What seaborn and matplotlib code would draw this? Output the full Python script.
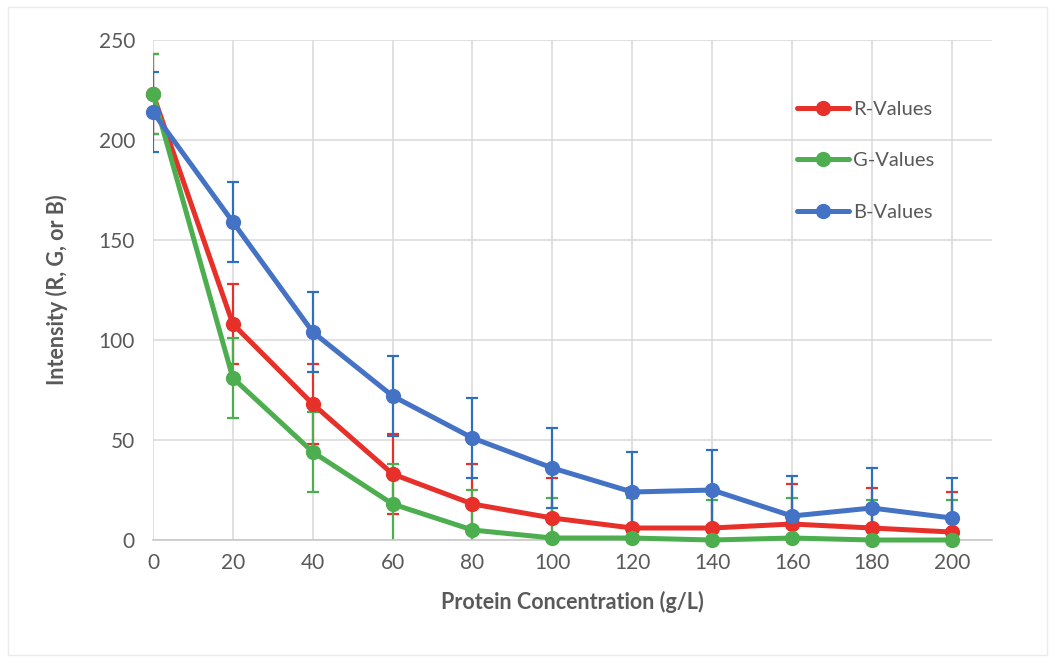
import numpy as np
import pandas as pd
import matplotlib
matplotlib.use("Agg")
import matplotlib.pyplot as plt
import seaborn as sns

sns.set_theme(style="white")
plt.rcParams['font.family'] = ['Lato', 'DejaVu Sans']

# protein concentration (g/L)
conc = [0, 20, 40, 60, 80, 100, 120, 140, 160, 180, 200]

r_values = [223, 108, 68, 33, 18, 11, 6, 6, 8, 6, 4]
g_values = [223, 81, 44, 18, 5, 1, 1, 0, 1, 0, 0]
b_values = [214, 159, 104, 72, 51, 36, 24, 25, 12, 16, 11]

r_err = [20] * 11
g_err = [20] * 11
b_err = [20] * 11

series = ["R-Values", "G-Values", "B-Values"]
colors = {"R-Values": "#E8302A", "G-Values": "#4DAE4F", "B-Values": "#4472C4"}
err_colors = {"R-Values": "#E8302A", "G-Values": "#4DAE4F", "B-Values": "#2E6FC0"}

df = pd.DataFrame({
    "conc": conc * 3,
    "value": r_values + g_values + b_values,
    "err": r_err + g_err + b_err,
    "series": [s for s in series for _ in conc],
})

fig = plt.figure(figsize=(10.55, 6.63), dpi=100)
ax = fig.add_axes([0.145, 0.1855, 0.795, 0.7542])

# error bars first, underneath the lines
for s in series:
    d = df[df.series == s]
    ax.errorbar(d.conc, d.value, yerr=d.err, fmt="none", ecolor=err_colors[s],
                elinewidth=1.6, capsize=4.5, capthick=1.6, zorder=1.5)

sns.lineplot(data=df, x="conc", y="value", hue="series", palette=colors,
             marker="o", markersize=11, markeredgewidth=0, linewidth=3.6,
             ax=ax, clip_on=False, zorder=3)

ax.set_xlim(0, 210)
ax.set_ylim(0, 250)
ax.set_xticks(conc)
ax.set_yticks([0, 50, 100, 150, 200, 250])
ax.grid(True, color="#D9D9D9", linewidth=1.1)
ax.set_axisbelow(True)
for sp in ["top", "right", "left"]:
    ax.spines[sp].set_visible(False)
ax.spines["bottom"].set_color("#C8C8C8")
ax.spines["bottom"].set_linewidth(1.2)
ax.tick_params(axis="both", length=0, labelsize=15, labelcolor="#595959")
ax.tick_params(axis="y", pad=13)
ax.tick_params(axis="x", pad=9)

ax.set_xlabel("Protein Concentration (g/L)", fontsize=15.5, fontweight="bold",
              color="#595959", labelpad=13)
ax.set_ylabel("Intensity (R, G, or B)", fontsize=15.5, fontweight="bold",
              color="#595959", labelpad=22)

leg = ax.legend(loc="upper left", bbox_to_anchor=(0.746, 0.915), frameon=False,
                fontsize=14.5, labelspacing=1.72, handlelength=2.6,
                handletextpad=0.2)
for t in leg.get_texts():
    t.set_color("#595959")

# faint chart border
fig.patches.append(plt.Rectangle((0.008, 0.012), 0.984, 0.978, transform=fig.transFigure,
                                 fill=False, edgecolor="#EBEBEB", linewidth=1))

fig.savefig("out.png", dpi=100)
